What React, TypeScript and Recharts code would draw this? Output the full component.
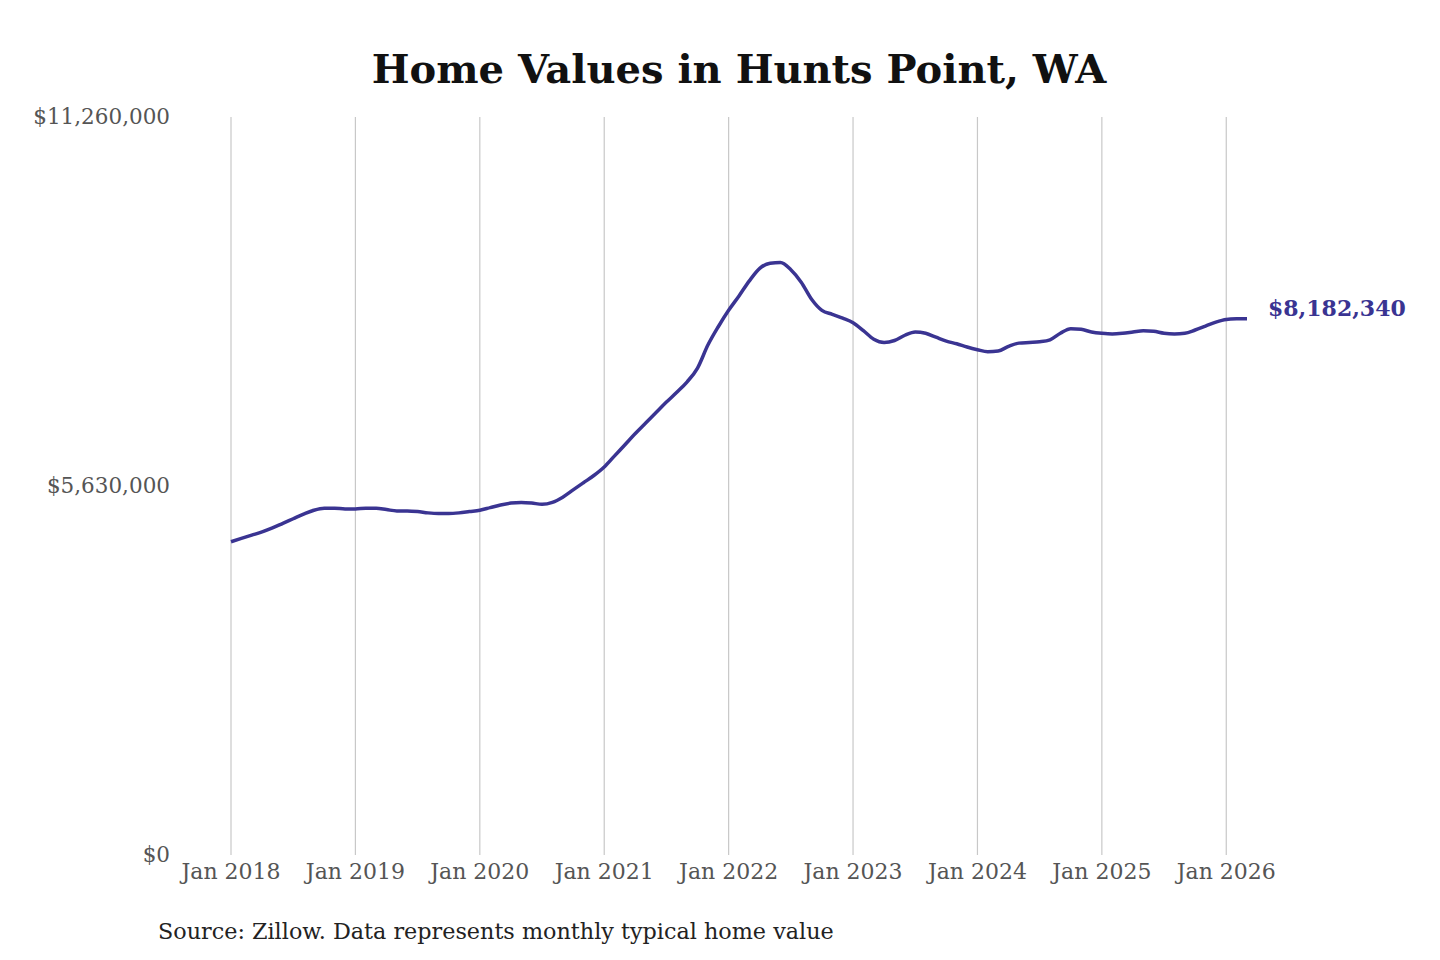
import { LineChart, Line, XAxis, YAxis, CartesianGrid } from 'recharts';

// Monthly typical home value, Jan 2018 .. Mar 2026
const homeValues = [
    // 2018
    4780000, 4830000, 4880000, 4930000, 4990000, 5060000, 5130000, 5200000, 5260000, 5290000, 5290000, 5280000,
    // 2019
    5280000, 5290000, 5290000, 5270000, 5250000, 5250000, 5240000, 5220000, 5210000, 5210000, 5220000, 5240000,
    // 2020
    5260000, 5300000, 5340000, 5370000, 5380000, 5370000, 5350000, 5380000, 5460000, 5570000, 5680000, 5790000,
    // 2021
    5920000, 6090000, 6260000, 6430000, 6590000, 6750000, 6910000, 7060000, 7220000, 7430000, 7780000, 8060000,
    // 2022
    8310000, 8530000, 8760000, 8950000, 9030000, 9040000, 8930000, 8740000, 8480000, 8310000, 8250000, 8190000,
    // 2023
    8120000, 8000000, 7870000, 7820000, 7850000, 7930000, 7980000, 7960000, 7900000, 7840000, 7800000, 7750000,
    // 2024
    7710000, 7680000, 7690000, 7760000, 7810000, 7820000, 7830000, 7860000, 7960000, 8030000, 8020000, 7980000,
    // 2025
    7960000, 7950000, 7960000, 7980000, 8000000, 7990000, 7960000, 7950000, 7960000, 8010000, 8070000, 8130000,
    // 2026
    8170000, 8180000, 8182340,
];

const yearLabels = ['Jan 2018', 'Jan 2019', 'Jan 2020', 'Jan 2021', 'Jan 2022', 'Jan 2023', 'Jan 2024', 'Jan 2025', 'Jan 2026'];
const yearTickIndex = [0, 12, 24, 36, 48, 60, 72, 84, 96];
const yTicks = [0, 5630000, 11260000];
const yTickLabels = ['$0', '$5,630,000', '$11,260,000'];

const LINE_COLOR = '#3a3492';
const FONT = '"DejaVu Serif", serif';

const data = homeValues.map((value, i) => ({ i, value }));
const lastIndex = homeValues.length - 1;

const XTick = (props: any) => {
    const k = yearTickIndex.indexOf(props.payload.value);
    return (
        <text x={props.x} y={props.y} dy={16} textAnchor="middle" fill="#555" fontSize={22} fontFamily={FONT}>
            {yearLabels[k]}
        </text>
    );
};

const YTick = (props: any) => {
    const k = yTicks.indexOf(props.payload.value);
    return (
        <text x={170} y={props.y} dy={7} textAnchor="end" fill="#555" fontSize={21.5} fontFamily={FONT}>
            {yTickLabels[k]}
        </text>
    );
};

const EndLabel = (props: any) => {
    if (props.index !== lastIndex) return null;
    return (
        <text x={props.x + 21} y={props.y - 10} dy={7} fill={LINE_COLOR} fontSize={22} fontWeight="bold" fontFamily={FONT}>
            $8,182,340
        </text>
    );
};

export default function App() {
    return (
        <div style={{ position: 'absolute', left: 0, top: 0, width: 1440, height: 960, background: '#fff', fontFamily: FONT }}>
            <LineChart width={1440} height={960} data={data} margin={{ top: 117, right: 193, left: 0, bottom: 0 }}>
                <CartesianGrid horizontal={false} syncWithTicks stroke="#c8c8c8" strokeWidth={1.2} />
                <XAxis
                    dataKey="i"
                    type="number"
                    domain={[0, lastIndex]}
                    ticks={yearTickIndex}
                    axisLine={false}
                    tickLine={false}
                    height={105}
                    tick={<XTick />}
                />
                <YAxis
                    domain={[0, 11260000]}
                    ticks={yTicks}
                    axisLine={false}
                    tickLine={false}
                    width={231}
                    tick={<YTick />}
                />
                <Line
                    type="monotone"
                    dataKey="value"
                    stroke={LINE_COLOR}
                    strokeWidth={3.5}
                    dot={false}
                    label={<EndLabel />}
                    isAnimationActive={false}
                />
            </LineChart>
            <svg width={1440} height={960} style={{ position: 'absolute', left: 0, top: 0, pointerEvents: 'none' }}>
                <text x={739} y={83} textAnchor="middle" fontSize={40} fontWeight="bold" fill="#111" fontFamily={FONT}>
                    Home Values in Hunts Point, WA
                </text>
                <text x={158} y={939} fontSize={22.3} fill="#222" fontFamily={FONT}>
                    Source: Zillow. Data represents monthly typical home value
                </text>
            </svg>
        </div>
    );
}
